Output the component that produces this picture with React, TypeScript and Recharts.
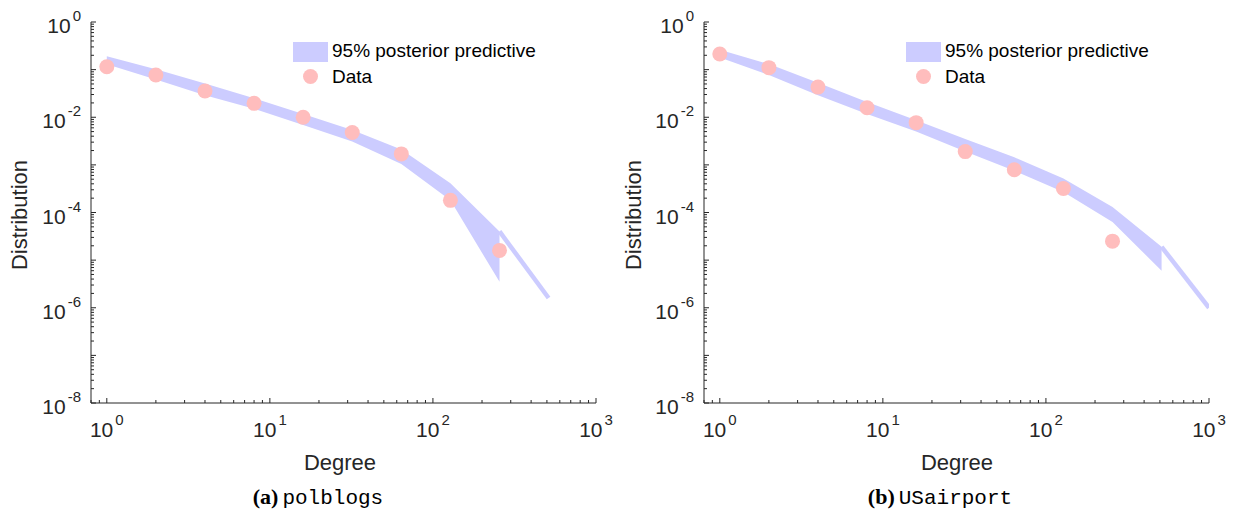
import { ComposedChart, Area, Line, Scatter, XAxis, YAxis } from "recharts";

// degree bins (log2 spaced)
const degrees = [1, 2, 4, 8, 16, 32, 64, 128, 256];
const airDegrees = [1, 2, 4, 8, 16, 32, 64, 128, 256, 512];

// (a) polblogs
const polLow = [0.13, 0.062, 0.029, 0.015, 0.0069, 0.0031, 0.00104, 1.8e-4, 3.5e-6];
const polHigh = [0.19, 0.102, 0.051, 0.025, 0.0117, 0.0054, 0.0021, 4.1e-4, 4e-5];
const polObserved = [0.115, 0.077, 0.0355, 0.0196, 0.01, 0.0048, 0.0017, 1.8e-4, 1.6e-5];
const polTailX = [256, 512];
const polTail = [4e-5, 1.6e-6];

// (b) USairport
const airLow = [0.18, 0.077, 0.029, 0.0117, 0.005, 0.0019, 7.5e-4, 2.7e-4, 6.3e-5, 6e-6];
const airHigh = [0.26, 0.131, 0.053, 0.021, 0.0087, 0.0035, 0.00144, 5.2e-4, 1.3e-4, 1.9e-5];
const airObserved = [0.213, 0.11, 0.043, 0.0158, 0.0077, 0.0019, 7.9e-4, 3.2e-4, 2.5e-5];
const airTailX = [512, 1000];
const airTail = [1.9e-5, 1e-6];

const xMajor = [1, 10, 100, 1000];
const yMajor = [1e-8, 1e-6, 1e-4, 1e-2, 1];

const BAND = "#ccccff";
const DOT = "#ffbdbd";
const INK = "#262626";
const SANS = "'Liberation Sans', Arial, Helvetica, sans-serif";

// log minor ticks inside a domain
function logTicks(lo: number, hi: number) {
  const out: number[] = [];
  for (let e = Math.floor(Math.log10(lo)); e <= Math.ceil(Math.log10(hi)); e++) {
    for (let k = 1; k <= 9; k++) {
      const v = k * Math.pow(10, e);
      if (v >= lo * 0.999 && v <= hi * 1.001) out.push(v);
    }
  }
  return out;
}

const xTicks = logTicks(0.8, 1000);
const yTicks = logTicks(1e-8, 1);

const isMajor = (v: number) => Math.abs(Math.log10(v) - Math.round(Math.log10(v))) < 1e-6;

function buildRows(xs: number[], low: number[], high: number[], tx: number[], tv: number[]) {
  const all = Array.from(new Set([...xs, ...tx])).sort((a, b) => a - b);
  return all.map((d) => {
    const i = xs.indexOf(d);
    const j = tx.indexOf(d);
    return {
      degree: d,
      band: i >= 0 ? [low[i], high[i]] : null,
      tail: j >= 0 ? tv[j] : null,
    };
  });
}

const XTick = (props: any) => {
  const { x, y, payload } = props;
  const v = payload.value;
  const major = isMajor(v);
  const showLabel = major && xMajor.some((m) => Math.abs(m - v) / m < 1e-6);
  return (
    <g>
      <line x1={x} x2={x} y1={y} y2={y - (major ? 5 : 3)} stroke={INK} strokeWidth={1} />
      {showLabel && (
        <text x={x} y={y + 34} textAnchor="middle" fill={INK} fontSize={21} fontFamily={SANS}>
          10
          <tspan dx={2} dy={-12} fontSize={15}>
            {Math.round(Math.log10(v))}
          </tspan>
        </text>
      )}
    </g>
  );
};

const YTick = (props: any) => {
  const { x, y, payload } = props;
  const v = payload.value;
  const major = isMajor(v);
  const showLabel = major && yMajor.some((m) => Math.abs(m - v) / m < 1e-6);
  return (
    <g>
      <line x1={x} x2={x + (major ? 5 : 3)} y1={y} y2={y} stroke={INK} strokeWidth={1} />
      {showLabel && (
        <text x={x - 10} y={y + 11} textAnchor="end" fill={INK} fontSize={21} fontFamily={SANS}>
          10
          <tspan dx={2} dy={-12} fontSize={15}>
            {Math.round(Math.log10(v))}
          </tspan>
        </text>
      )}
    </g>
  );
};

function LegendBox(props: { left: number; top: number }) {
  return (
    <div
      style={{
        position: "absolute",
        left: props.left,
        top: props.top,
        width: 260,
        height: 50,
        fontFamily: SANS,
        fontSize: 19,
        color: "#000",
      }}
    >
      <div style={{ position: "absolute", left: 0, top: 0, width: 35, height: 20, background: BAND }} />
      <div style={{ position: "absolute", left: 39, top: -3, lineHeight: "24px", whiteSpace: "nowrap" }}>
        95% posterior predictive
      </div>
      <div
        style={{ position: "absolute", left: 10, top: 27, width: 15, height: 15, borderRadius: "50%", background: DOT }}
      />
      <div style={{ position: "absolute", left: 39, top: 23, lineHeight: "24px" }}>Data</div>
    </div>
  );
}

const Dot = (props: any) => <circle cx={props.cx} cy={props.cy} r={7.5} fill={DOT} />;

function Panel(props: {
  xs: number[];
  low: number[];
  high: number[];
  obs: number[];
  tailX: number[];
  tail: number[];
}) {
  const rows = buildRows(props.xs, props.low, props.high, props.tailX, props.tail);
  const points = props.obs.map((v, i) => ({ degree: degrees[i], obs: v }));
  return (
    <ComposedChart width={618} height={516} data={rows} margin={{ top: 22, right: 22, bottom: 83, left: 31 }}>
      <XAxis
        dataKey="degree"
        type="number"
        scale="log"
        domain={[0.8, 1000]}
        allowDataOverflow
        ticks={xTicks}
        interval={0}
        tickSize={0}
        tickMargin={0}
        tickLine={false}
        tick={<XTick />}
        axisLine={{ stroke: INK, strokeWidth: 1 }}
        height={30}
      />
      <YAxis
        type="number"
        scale="log"
        domain={[1e-8, 1]}
        allowDataOverflow
        ticks={yTicks}
        interval={0}
        tickSize={0}
        tickMargin={0}
        tickLine={false}
        tick={<YTick />}
        axisLine={{ stroke: INK, strokeWidth: 1 }}
        width={60}
      />
      <Area
        dataKey="band"
        type="linear"
        stroke="none"
        fill={BAND}
        fillOpacity={1}
        isAnimationActive={false}
        connectNulls={false}
        activeDot={false}
      />
      <Line
        dataKey="tail"
        type="linear"
        stroke={BAND}
        strokeWidth={4.5}
        dot={false}
        activeDot={false}
        connectNulls={false}
        isAnimationActive={false}
      />
      <Scatter data={points} dataKey="obs" shape={<Dot />} isAnimationActive={false} />
    </ComposedChart>
  );
}

const labelStyle: any = { position: "absolute", fontFamily: SANS, fontSize: 22, color: INK, whiteSpace: "nowrap" };

function Caption(props: { cx: number; tag: string; name: string }) {
  return (
    <div
      style={{
        position: "absolute",
        left: props.cx - 150,
        width: 300,
        top: 484,
        textAlign: "center",
        whiteSpace: "nowrap",
        lineHeight: "26px",
      }}
    >
      <span style={{ fontFamily: "'Liberation Serif', serif", fontWeight: "bold", fontSize: 22 }}>{props.tag}</span>{" "}
      <span style={{ fontFamily: "'Liberation Mono', 'DejaVu Sans Mono', monospace", fontSize: 21 }}>{props.name}</span>
    </div>
  );
}

export default function App() {
  return (
    <div style={{ position: "absolute", left: 0, top: 0, width: 1236, height: 516, background: "#fff", overflow: "hidden" }}>
      <div style={{ position: "absolute", left: 0, top: 0 }}>
        <Panel xs={degrees} low={polLow} high={polHigh} obs={polObserved} tailX={polTailX} tail={polTail} />
      </div>
      <div style={{ position: "absolute", left: 613, top: 0 }}>
        <Panel xs={airDegrees} low={airLow} high={airHigh} obs={airObserved} tailX={airTailX} tail={airTail} />
      </div>

      <LegendBox left={293} top={42} />
      <LegendBox left={906} top={42} />

      <div style={{ ...labelStyle, left: 20, top: 215, transform: "translate(-50%, -50%) rotate(-90deg)" }}>
        Distribution
      </div>
      <div style={{ ...labelStyle, left: 634, top: 215, transform: "translate(-50%, -50%) rotate(-90deg)" }}>
        Distribution
      </div>
      <div style={{ ...labelStyle, left: 340, top: 450, transform: "translateX(-50%)" }}>Degree</div>
      <div style={{ ...labelStyle, left: 957, top: 450, transform: "translateX(-50%)" }}>Degree</div>

      <Caption cx={318} tag="(a)" name="polblogs" />
      <Caption cx={940} tag="(b)" name="USairport" />
    </div>
  );
}
